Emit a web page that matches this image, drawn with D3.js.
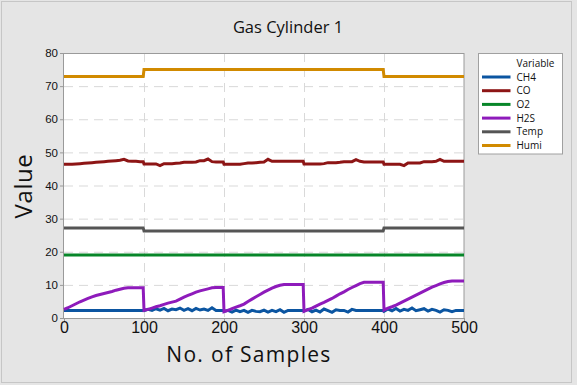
<!DOCTYPE html>
<html>
<head>
<meta charset="utf-8">
<script src="https://cdn.jsdelivr.net/npm/d3@7"></script>
<style>
  body { margin: 0; background: #e5e5e5; }
  svg { display: block; font-family: "Open Sans", "Noto Sans", sans-serif; }
  .grid line { stroke: #d9d9d9; stroke-dasharray: 9,6; }
  .axis path, .axis line { stroke: #9a9a9a; }
  .axis text { fill: #111; }
</style>
</head>
<body>
<div class="chart"></div>
<script>
// Data (one value every 5 samples plus the last sample before each reset).
const samples = [
  0, 5, 10, 15, 20, 25, 30, 35, 40, 45, 50, 55, 60, 65, 70, 75, 80, 85, 90, 95, 99,
  100, 105, 110, 115, 120, 125, 130, 135, 140, 145, 150, 155, 160, 165, 170, 175, 180, 185, 190, 195, 199,
  200, 205, 210, 215, 220, 225, 230, 235, 240, 245, 250, 255, 260, 265, 270, 275, 280, 285, 290, 295, 299,
  300, 305, 310, 315, 320, 325, 330, 335, 340, 345, 350, 355, 360, 365, 370, 375, 380, 385, 390, 395, 399,
  400, 405, 410, 415, 420, 425, 430, 435, 440, 445, 450, 455, 460, 465, 470, 475, 480, 485, 490, 495, 500
];

const ch4 = [
  2.3, 2.3, 2.3, 2.3, 2.3, 2.3, 2.3, 2.3, 2.3, 2.3, 2.3, 2.3, 2.3, 2.3, 2.3, 2.3, 2.3, 2.3, 2.3, 2.3, 2.3,
  2.2, 2.6, 2.3, 2.8, 2.4, 2.9, 2.2, 2.7, 2.5, 3.0, 2.3, 2.8, 2.2, 2.9, 2.4, 2.7, 2.3, 3.1, 2.3, 2.3, 2.3,
  2.0, 2.3, 1.8, 2.4, 1.9, 2.3, 1.7, 2.3, 2.0, 1.9, 2.4, 1.8, 2.3, 1.9, 2.5, 1.7, 2.3, 2.3, 2.3, 2.3, 2.3,
  2.1, 2.6, 1.9, 2.4, 1.8, 2.7, 2.2, 1.7, 2.5, 2.3, 2.3, 1.8, 2.6, 2.3, 2.3, 2.3, 2.3, 2.3, 2.3, 2.3, 2.3,
  2.0, 2.7, 2.2, 2.9, 2.1, 2.6, 2.3, 3.0, 2.2, 2.5, 2.8, 2.1, 2.6, 2.3, 1.8, 2.5, 2.3, 1.9, 2.3, 2.3, 2.3
];

const co = [
  46.4, 46.4, 46.4, 46.5, 46.6, 46.7, 46.8, 46.9, 47.0, 47.1, 47.2, 47.3, 47.4, 47.5, 47.6, 47.9, 47.4, 47.3, 47.3, 47.2, 47.2,
  46.5, 46.5, 46.5, 46.5, 46.0, 46.6, 46.6, 46.6, 46.7, 46.8, 47.0, 47.0, 47.0, 47.1, 47.5, 47.5, 48.0, 47.2, 47.1, 47.1, 47.1,
  46.4, 46.4, 46.4, 46.4, 46.4, 46.6, 46.8, 46.8, 46.9, 47.0, 47.1, 47.9, 47.3, 47.3, 47.3, 47.3, 47.3, 47.3, 47.3, 47.3, 47.3,
  46.5, 46.5, 46.5, 46.5, 46.5, 46.6, 46.9, 46.9, 46.9, 47.0, 47.2, 47.2, 47.2, 47.8, 47.3, 47.1, 47.1, 47.1, 47.1, 47.1, 47.1,
  46.4, 46.4, 46.4, 46.4, 46.4, 46.0, 46.8, 46.8, 46.8, 46.8, 47.2, 47.2, 47.2, 47.3, 47.9, 47.3, 47.3, 47.3, 47.3, 47.3, 47.3
];

const o2 = [
  19, 19, 19, 19, 19, 19, 19, 19, 19, 19, 19, 19, 19, 19, 19, 19, 19, 19, 19, 19, 19,
  19, 19, 19, 19, 19, 19, 19, 19, 19, 19, 19, 19, 19, 19, 19, 19, 19, 19, 19, 19, 19,
  19, 19, 19, 19, 19, 19, 19, 19, 19, 19, 19, 19, 19, 19, 19, 19, 19, 19, 19, 19, 19,
  19, 19, 19, 19, 19, 19, 19, 19, 19, 19, 19, 19, 19, 19, 19, 19, 19, 19, 19, 19, 19,
  19, 19, 19, 19, 19, 19, 19, 19, 19, 19, 19, 19, 19, 19, 19, 19, 19, 19, 19, 19, 19
];

const h2s = [
  2.6, 3.1, 3.7, 4.3, 4.9, 5.4, 5.9, 6.4, 6.8, 7.1, 7.4, 7.7, 8.0, 8.4, 8.7, 9.0, 9.1, 9.1, 9.1, 9.1, 9.1,
  2.3, 2.6, 3.0, 3.4, 3.7, 4.1, 4.5, 4.8, 5.1, 5.7, 6.3, 6.8, 7.3, 7.8, 8.2, 8.5, 8.8, 9.1, 9.2, 9.2, 9.2,
  1.9, 2.3, 2.8, 3.3, 3.7, 4.2, 5.0, 5.7, 6.4, 7.1, 7.8, 8.4, 9.0, 9.5, 9.9, 10.1, 10.1, 10.1, 10.1, 10.1, 10.1,
  2.0, 2.5, 3.0, 3.6, 4.2, 4.7, 5.3, 5.9, 6.6, 7.3, 7.9, 8.6, 9.2, 9.8, 10.4, 10.8, 10.8, 10.8, 10.8, 10.8, 10.8,
  2.4, 3.0, 3.4, 3.9, 4.5, 5.1, 5.7, 6.3, 6.9, 7.5, 8.1, 8.7, 9.3, 9.8, 10.3, 10.7, 11.0, 11.2, 11.2, 11.2, 11.2
];

const temp = [
  27.2, 27.2, 27.2, 27.2, 27.2, 27.2, 27.2, 27.2, 27.2, 27.2, 27.2, 27.2, 27.2, 27.2, 27.2, 27.2, 27.2, 27.2, 27.2, 27.2, 27.2,
  26.3, 26.3, 26.3, 26.3, 26.3, 26.3, 26.3, 26.3, 26.3, 26.3, 26.3, 26.3, 26.3, 26.3, 26.3, 26.3, 26.3, 26.3, 26.3, 26.3, 26.3,
  26.3, 26.3, 26.3, 26.3, 26.3, 26.3, 26.3, 26.3, 26.3, 26.3, 26.3, 26.3, 26.3, 26.3, 26.3, 26.3, 26.3, 26.3, 26.3, 26.3, 26.3,
  26.3, 26.3, 26.3, 26.3, 26.3, 26.3, 26.3, 26.3, 26.3, 26.3, 26.3, 26.3, 26.3, 26.3, 26.3, 26.3, 26.3, 26.3, 26.3, 26.3, 26.3,
  27.2, 27.2, 27.2, 27.2, 27.2, 27.2, 27.2, 27.2, 27.2, 27.2, 27.2, 27.2, 27.2, 27.2, 27.2, 27.2, 27.2, 27.2, 27.2, 27.2, 27.2
];

const humi = [
  72.9, 72.9, 72.9, 72.9, 72.9, 72.9, 72.9, 72.9, 72.9, 72.9, 72.9, 72.9, 72.9, 72.9, 72.9, 72.9, 72.9, 72.9, 72.9, 72.9, 72.9,
  75.0, 75.0, 75.0, 75.0, 75.0, 75.0, 75.0, 75.0, 75.0, 75.0, 75.0, 75.0, 75.0, 75.0, 75.0, 75.0, 75.0, 75.0, 75.0, 75.0, 75.0,
  75.0, 75.0, 75.0, 75.0, 75.0, 75.0, 75.0, 75.0, 75.0, 75.0, 75.0, 75.0, 75.0, 75.0, 75.0, 75.0, 75.0, 75.0, 75.0, 75.0, 75.0,
  75.0, 75.0, 75.0, 75.0, 75.0, 75.0, 75.0, 75.0, 75.0, 75.0, 75.0, 75.0, 75.0, 75.0, 75.0, 75.0, 75.0, 75.0, 75.0, 75.0, 75.0,
  72.9, 72.9, 72.9, 72.9, 72.9, 72.9, 72.9, 72.9, 72.9, 72.9, 72.9, 72.9, 72.9, 72.9, 72.9, 72.9, 72.9, 72.9, 72.9, 72.9, 72.9
];

const seriesNames = ['CH4', 'CO', 'O2', 'H2S', 'Temp', 'Humi'];
const seriesValues = [ch4, co, o2, h2s, temp, humi];
const seriesColors = ['#0b55a1', '#8d1515', '#078629', '#8e1bbb', '#555555', '#d18a00'];

const xTicks = [0, 100, 200, 300, 400, 500];
const yTicks = [0, 10, 20, 30, 40, 50, 60, 70, 80];

// Margin convention.
const outerWidth = 577;
const outerHeight = 385;
const margin = {top: 53, right: 113, bottom: 67, left: 64};
const width = 400;
const height = 265;

// Scales.
const xScale = d3.scaleLinear().domain([0, 500]).range([0, width]);
const yScale = d3.scaleLinear().domain([0, 80]).range([height, 0]);

// Draw base.
const root = d3.select('.chart')
  .append('svg')
  .attr('width', outerWidth)
  .attr('height', outerHeight);

root.append('rect')
  .attr('width', outerWidth)
  .attr('height', outerHeight)
  .style('fill', '#e5e5e5');

root.append('rect')
  .attr('x', 1.5)
  .attr('y', 1.5)
  .attr('width', 570)
  .attr('height', 381)
  .style('fill', 'none')
  .style('stroke', '#c6c6c6');

root.append('text')
  .attr('x', 288)
  .attr('y', 33)
  .attr('text-anchor', 'middle')
  .style('font-size', '16.5px')
  .style('fill', '#111')
  .text('Gas Cylinder 1');

const svg = root.append('g')
  .attr('transform', `translate(${margin.left}, ${margin.top})`);

svg.append('rect')
  .attr('width', width)
  .attr('height', height)
  .style('fill', '#fff');

// Grid.
svg.append('g')
  .attr('class', 'grid')
  .selectAll('line')
  .data(yTicks.filter(d => d > 0 && d < 80))
  .join('line')
  .attr('x1', 0)
  .attr('x2', width)
  .attr('y1', d => yScale(d) + 0.5)
  .attr('y2', d => yScale(d) + 0.5);

svg.append('g')
  .attr('class', 'grid')
  .selectAll('line')
  .data(xTicks.filter(d => d > 0 && d < 500))
  .join('line')
  .attr('x1', d => xScale(d) + 0.5)
  .attr('x2', d => xScale(d) + 0.5)
  .attr('y1', 0)
  .attr('y2', height);

// Frame.
svg.append('rect')
  .attr('x', -0.5)
  .attr('y', 0.5)
  .attr('width', width + 0.5)
  .attr('height', height)
  .style('fill', 'none')
  .style('stroke', '#9a9a9a');

// Draw lines.
const line = d3.line()
  .x((d, i) => xScale(samples[i]))
  .y(d => yScale(d));

svg.append('g')
  .selectAll('path')
  .data(seriesValues)
  .join('path')
  .attr('d', d => line(d))
  .style('fill', 'none')
  .style('stroke', (d, i) => seriesColors[i])
  .style('stroke-width', 3);

// Draw axes.
const xAxis = d3.axisBottom(xScale)
  .tickValues(xTicks)
  .tickSizeInner(3)
  .tickSizeOuter(0);

const xAxisDraw = svg.append('g')
  .attr('class', 'x axis')
  .attr('transform', `translate(0, ${height})`)
  .call(xAxis);

xAxisDraw.select('.domain').remove();
xAxisDraw.selectAll('text')
  .attr('y', 4)
  .style('font-size', '16px');

const yAxis = d3.axisLeft(yScale)
  .tickValues(yTicks)
  .tickSizeInner(4)
  .tickSizeOuter(0);

const yAxisDraw = svg.append('g')
  .attr('class', 'y axis')
  .call(yAxis);

yAxisDraw.select('.domain').remove();
yAxisDraw.selectAll('text')
  .attr('x', -6)
  .style('font-size', '11.5px');

// Axis titles.
root.append('text')
  .attr('x', 249)
  .attr('y', 362)
  .attr('text-anchor', 'middle')
  .style('font-size', '21px')
  .style('letter-spacing', '1.3px')
  .style('fill', '#111')
  .text('No. of Samples');

root.append('text')
  .attr('transform', 'translate(32, 186) rotate(-90)')
  .attr('text-anchor', 'middle')
  .style('font-size', '24px')
  .style('letter-spacing', '0.6px')
  .style('fill', '#111')
  .text('Value');

// Legend.
const legend = root.append('g')
  .attr('transform', 'translate(478.5, 53.5)');

legend.append('rect')
  .attr('width', 84)
  .attr('height', 100.5)
  .style('fill', '#fff')
  .style('stroke', '#a0a0a0');

legend.append('text')
  .attr('x', 38)
  .attr('y', 13)
  .style('font-size', '10px')
  .style('fill', '#111')
  .text('Variable');

const legendItems = legend.selectAll('.legend-item')
  .data(seriesNames)
  .join('g')
  .attr('class', 'legend-item')
  .attr('transform', (d, i) => `translate(0, ${23.5 + i * 13.7})`);

legendItems.append('line')
  .attr('x1', 3.5)
  .attr('x2', 32)
  .style('stroke', (d, i) => seriesColors[i])
  .style('stroke-width', 3);

legendItems.append('text')
  .attr('x', 38)
  .attr('y', 3.5)
  .style('font-size', '10px')
  .style('fill', '#111')
  .text(d => d);
</script>
</body>
</html>
